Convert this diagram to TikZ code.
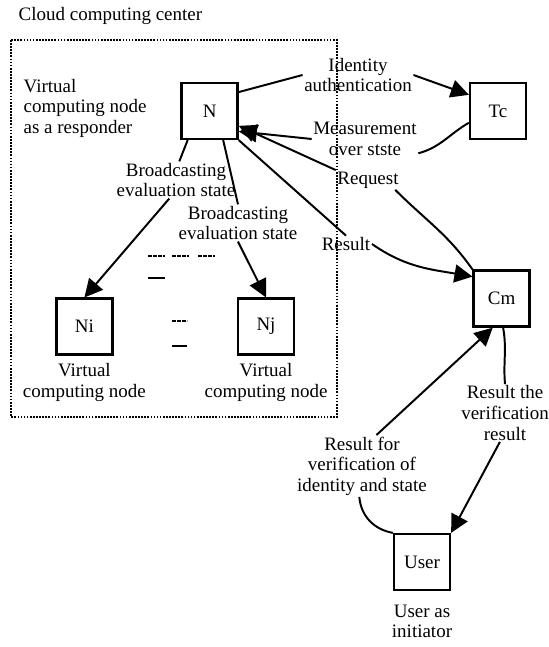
\documentclass[tikz,border=0pt]{standalone}
\usepackage{fontspec}
\setmainfont{Liberation Serif}
\usetikzlibrary{arrows.meta,positioning}

\begin{document}
\begin{tikzpicture}[
    box/.style={draw, line width=1.6pt, minimum size=1.4cm, inner sep=0pt, font=\fontsize{13.5}{14.6}\selectfont},
    lbl/.style={align=center, inner sep=1pt, font=\fontsize{13.5}{14.6}\selectfont},
    link/.style={line width=1.4pt},
    arr/.style={link, -{Triangle[length=0.45cm, width=0.45cm]}}
]
    \useasboundingbox (0,0) rectangle (13.7,16.175);

    % Cloud computing center (dotted frame)
    \node[lbl, anchor=west] (cloud) at (0.425,15.775) {Cloud computing center};
    \draw[densely dotted, line width=1.2pt] (0.275,15.175) rectangle (8.425,5.75);
    \node[lbl, anchor=west, align=left] (resp) at (0.55,13.475) {Virtual\\computing node\\as a responder};

    % Boxes
    \node[box] (N) at (5.24,13.40) {N};
    \node[box] (Tc) at (12.45,13.40) {Tc};
    \node[box] (Ni) at (2.11,8.01) {Ni};
    \node[box] (Nj) at (6.65,8.01) {Nj};
    \node[box] (Cm) at (12.54,8.71) {Cm};
    \node[box] (User) at (10.55,2.125) {User};

    % Texts under the boxes
    \node[lbl, below=0.15cm of Ni] (niLbl) {Virtual\\computing node};
    \node[lbl, below=0.15cm of Nj] (njLbl) {Virtual\\computing node};
    \node[lbl, below=0.3cm of User] (userLbl) {User as\\initiator};

    % Labels on the connectors
    \node[lbl] (ident) at (8.95,14.30) {Identity\\authentication};
    \node[lbl] (meas) at (9.125,12.70) {Measurement\\over stste};
    \node[lbl] (req) at (9.20,11.675) {Request};
    \node[lbl] (res) at (8.65,10.075) {Result};
    \node[lbl] (bcI) at (4.40,11.675) {Broadcasting\\evaluation state};
    \node[lbl] (bcJ) at (5.95,10.60) {Broadcasting\\evaluation state};
    \node[lbl] (resFor) at (9.05,4.525) {Result for\\verification of\\identity and state};
    \node[lbl] (resThe) at (12.625,5.85) {Result the\\verification\\result};

    % N <-> Tc
    \draw[link] (N.33) -- (ident.west);
    \draw[arr] (ident.east) -- (Tc.151);
    \draw[link] (Tc.202) to[out=210, in=15] (meas.-15);
    \draw[arr] (meas.west) -- (N.-35);

    % N <-> Cm
    \draw[link] (Cm.north west) to[out=125, in=-45] (req.-20);
    \draw[arr] (req.north west) -- (N.-27);
    \draw[link] (N.south east) -- (res.north);
    \draw[arr] (res.east) to[out=-35, in=170] (Cm.143);

    % N -> Ni, Nj
    \draw[link] (N.-127) -- (bcI.80);
    \draw[arr] (bcI.-110) -- (Ni.north);
    \draw[link] (N.-65) -- (bcJ.north);
    \draw[arr] (bcJ.south) -- (Nj.north);

    % dashes between the nodes
    \foreach \x in {3.70,4.30,4.95}
        \draw[line width=1.2pt, dash pattern=on 2.6pt off 1pt] (\x,9.775) -- ++(0.42,0);
    \draw[line width=1.6pt] (3.70,9.225) -- ++(0.42,0);
    \draw[line width=1.2pt, dash pattern=on 2.6pt off 1pt] (4.30,8.15) -- ++(0.38,0);
    \draw[line width=1.6pt] (4.30,7.525) -- ++(0.38,0);

    % Cm <-> User
    \draw[link] (User.north west) to[out=170, in=-85] (resFor.-95);
    \draw[arr] (resFor.65) -- (Cm.-107);
    \draw[link] (Cm.-87) to[out=-80, in=95] (resThe.north);
    \draw[arr] (resThe.-100) -- (User.north east);
\end{tikzpicture}
\end{document}
